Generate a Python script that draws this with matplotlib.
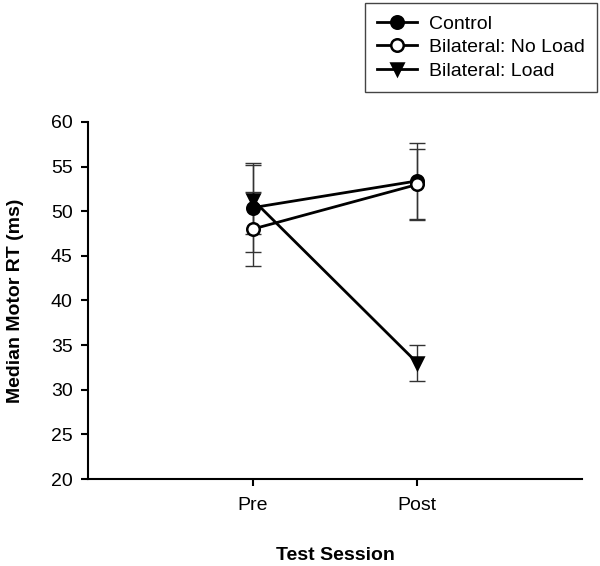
import matplotlib
matplotlib.use("Agg")
import matplotlib.pyplot as plt

plt.rcParams['font.family'] = ['Liberation Sans', 'DejaVu Sans']

# Data
sessions = ["Pre", "Post"]
control = [50.4, 53.4]
control_err = [5.0, 4.3]
no_load = [48.0, 53.0]
no_load_err = [4.1, 4.0]
load = [51.3, 33.0]
load_err = [3.9, 2.0]

x = [1, 2]

fig = plt.figure(figsize=(6, 5.66), dpi=100)
ax = fig.add_axes([0.1467, 0.1537, 0.8233, 0.6308])

series = [
    ("Control", control, control_err, "o", "black"),
    ("Bilateral: No Load", no_load, no_load_err, "o", "white"),
    ("Bilateral: Load", load, load_err, "v", "black"),
]

for label, vals, errs, mk, fc in series:
    ax.errorbar(x, vals, yerr=errs, fmt="none", ecolor="#333333",
                elinewidth=1.0, capsize=6, capthick=1.0, zorder=1)
for label, vals, errs, mk, fc in series:
    ax.plot(x, vals, color="black", lw=2, marker=mk, markersize=9,
            markerfacecolor=fc, markeredgecolor="black", markeredgewidth=1.8,
            label=label, zorder=3)

ax.set_xlim(0, 3)
ax.set_ylim(20, 60)
ax.set_xticks(x)
ax.set_xticklabels(sessions)
ax.set_yticks(range(20, 61, 5))

for s in ["top", "right"]:
    ax.spines[s].set_visible(False)
for s in ["left", "bottom"]:
    ax.spines[s].set_linewidth(1.5)
ax.tick_params(direction="out", length=5, width=1.5, labelsize=14)
ax.tick_params(axis="y", pad=6)
ax.tick_params(axis="x", pad=8)

ax.set_ylabel("Median Motor RT (ms)", fontsize=14, fontweight="bold", labelpad=19)
ax.set_xlabel("Test Session", fontsize=14, fontweight="bold", labelpad=24)

leg = fig.legend(loc="upper right", bbox_to_anchor=(597 / 600, 1 - 3 / 566),
                 borderaxespad=0, fontsize=14, fancybox=False,
                 edgecolor="#444444", handlelength=2.1, handletextpad=0.6,
                 borderpad=0.62, labelspacing=0.3, framealpha=1)
leg.get_frame().set_linewidth(1.0)

fig.savefig("out.png", dpi=100)
